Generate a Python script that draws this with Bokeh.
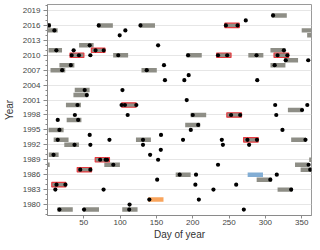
from bokeh.plotting import figure
from bokeh.models import Range1d, FixedTicker
from bokeh.embed import file_html
from bokeh.resources import INLINE

# ---- data ----
gray_year = [2018, 2016, 2016, 2016, 2015, 2015, 2014, 2012, 2011, 2011,
             2010, 2010, 2010, 2010, 2009, 2008, 2008, 2007, 2007, 2003,
             2002, 2000, 1999, 1998, 1997, 1996, 1995, 1993, 1993, 1993,
             1992, 1990, 1989, 1988, 1988, 1988, 1987, 1986, 1985, 1983,
             1979, 1979, 1979]
gray_start = [308.8, 0.0, 69.0, 127.0, 0.5, 350.0, 357.5, 43.5, 1.5, 307.0,
              90.4, 191.5, 276.5, 363.5, 326.0, 16.4, 307.0, 4.1, 129.4, 37.5,
              35.7, 25.4, 331.0, 197.0, 26.4, 189.6, 1.6, 8.5, 121.8, 335.5,
              23.1, 1.8, 360.3, 0.0, 78.2, 340.8, 348.5, 176.5, 288.0, 316.8,
              13.7, 49.5, 102.9]
gray_end = [329.5, 4.5, 90.0, 148.0, 14.0, 366.0, 366.0, 63.5, 20.0, 327.6,
            111.0, 212.4, 297.2, 366.0, 345.0, 37.0, 327.6, 24.5, 150.5, 58.0,
            56.0, 46.0, 351.4, 218.5, 46.7, 210.2, 22.2, 29.0, 142.4, 356.0,
            43.3, 15.3, 366.0, 3.0, 99.7, 359.5, 366.0, 197.1, 308.6, 337.3,
            34.8, 70.9, 124.0]

red_year = [2016, 2011, 2010, 2010, 2010, 2000, 1998, 1993, 1989, 1987, 1984]
red_start = [244.2, 60.4, 31.0, 232.9, 311.9, 102.1, 246.9, 270.0, 65.7, 40.9, 5.9]
red_end = [264.0, 79.1, 50.1, 252.7, 332.1, 122.1, 267.1, 290.1, 85.3, 60.6, 25.3]

blue_year = [1986]
blue_start = [275.6]
blue_end = [296.7]

orange_year = [1981]
orange_start = [138.6]
orange_end = [159.7]

dot_year = [2018, 2017,
            2016, 2016, 2016, 2016, 2016,
            2015, 2015, 2014, 2012, 2012,
            2011, 2011, 2011, 2011, 2011,
            2010, 2010, 2010, 2010, 2010, 2010, 2010, 2010, 2010, 2010,
            2009, 2009, 2008, 2008, 2008, 2007, 2007, 2006,
            2005, 2005, 2005, 2003, 2003, 2002, 2001,
            2000, 2000, 2000, 2000, 2000, 2000, 1999,
            1998, 1998, 1998, 1998, 1998, 1998,
            1997, 1997, 1996, 1995, 1995, 1995, 1994, 1994,
            1993, 1993, 1993, 1993, 1993, 1993, 1993, 1993,
            1992, 1992, 1992, 1992, 1992, 1991, 1990, 1990,
            1989, 1989, 1989, 1989, 1988, 1988, 1988,
            1987, 1987, 1987, 1986, 1986, 1986, 1985, 1985,
            1984, 1984, 1984, 1984, 1983, 1983, 1983, 1983,
            1981, 1981, 1980, 1979, 1979, 1979, 1979]
dot_day = [310.6, 273.0,
           2.0, 70.6, 128.0, 245.6, 261.7,
           9.5, 107.2, 99.4, 58.1, 152.3,
           12.2, 36.0, 66.2, 77.4, 325.5,
           33.3, 43.3, 59.0, 97.4, 193.6, 234.8, 247.4, 287.8, 316.8, 330.3,
           328.0, 359.0, 32.1, 160.4, 312.8, 20.2, 136.6, 194.4,
           161.7, 188.4, 288.8, 51.2, 103.2, 54.1, 191.7,
           41.3, 102.0, 106.6, 122.3, 313.5, 357.7, 350.5,
           37.7, 110.4, 200.0, 252.8, 265.3, 315.0,
           14.1, 42.2, 207.5, 16.4, 197.3, 323.5, 58.1, 156.3,
           14.1, 85.3, 131.5, 186.6, 240.0, 275.3, 288.4, 355.2,
           37.2, 59.0, 131.5, 241.5, 277.6, 156.0, 8.3, 141.3,
           72.5, 80.0, 82.0, 152.3, 90.6, 234.8, 359.5,
           45.1, 59.0, 361.8, 182.0, 204.5, 315.7, 151.0, 306.8,
           12.4, 24.7, 203.6, 259.8, 10.8, 77.2, 228.5, 335.5,
           140.2, 208.4, 113.0, 16.4, 50.3, 112.5, 270.3]

x_ticks = [50, 100, 150, 200, 250, 300, 350]
y_ticks = list(range(1980, 2020, 3))
y_minor = list(range(1978, 2021))

FONT = "Liberation Sans"

p = figure(width=312, height=242, output_backend="svg", toolbar_location=None,
           x_range=Range1d(0, 363.5), y_range=Range1d(1977.8, 2020.2),
           min_border_left=43, min_border_right=1, min_border_top=4,
           min_border_bottom=26, background_fill_color="white")
p.outline_line_color = "#9a9a9a"
p.outline_line_width = 1

BAR_H = 0.9
p.hbar(y=gray_year, left=gray_start, right=gray_end, height=BAR_H,
       fill_color="#8e8e86", line_color=None)
p.hbar(y=red_year, left=red_start, right=red_end, height=BAR_H,
       fill_color="#8e8e86", line_color="#e8383e", line_width=1.2)
p.hbar(y=blue_year, left=blue_start, right=blue_end, height=BAR_H,
       fill_color="#82add4", line_color=None)
p.hbar(y=orange_year, left=orange_start, right=orange_end, height=BAR_H,
       fill_color="#f9a45c", line_color=None)
p.scatter(x=dot_day, y=dot_year, size=4.2, fill_color="black", line_color=None)

# axes
p.xaxis.ticker = FixedTicker(ticks=x_ticks)
p.yaxis.ticker = FixedTicker(ticks=y_ticks, minor_ticks=y_minor)
for ax in (p.xaxis[0], p.yaxis[0]):
    ax.axis_line_color = "#8a8a8a"
    ax.major_tick_line_color = "#8a8a8a"
    ax.minor_tick_line_color = "#8a8a8a"
    ax.major_tick_in = 0
    ax.minor_tick_in = 0
    ax.minor_tick_out = 2
    ax.major_label_text_font = FONT
    ax.major_label_text_font_size = "8px"
    ax.major_label_text_color = "#444444"
    ax.axis_label_text_font = FONT
    ax.axis_label_text_font_size = "10px"
    ax.axis_label_text_font_style = "normal"
    ax.axis_label_text_color = "#333333"
p.xaxis.minor_tick_line_color = None
p.xaxis.major_tick_out = 3
p.xaxis.major_label_standoff = 1
p.xaxis.axis_label_standoff = 1
p.yaxis.major_tick_out = 4
p.yaxis.major_label_standoff = 3
p.yaxis.axis_label_standoff = 5
p.xaxis.axis_label = "Day of year"
p.yaxis.axis_label = "Year"

p.xgrid.visible = False
p.ygrid.grid_line_color = "#e6e6e6"
p.ygrid.grid_line_width = 1

open("out.html", "w").write(file_html(p, INLINE))
